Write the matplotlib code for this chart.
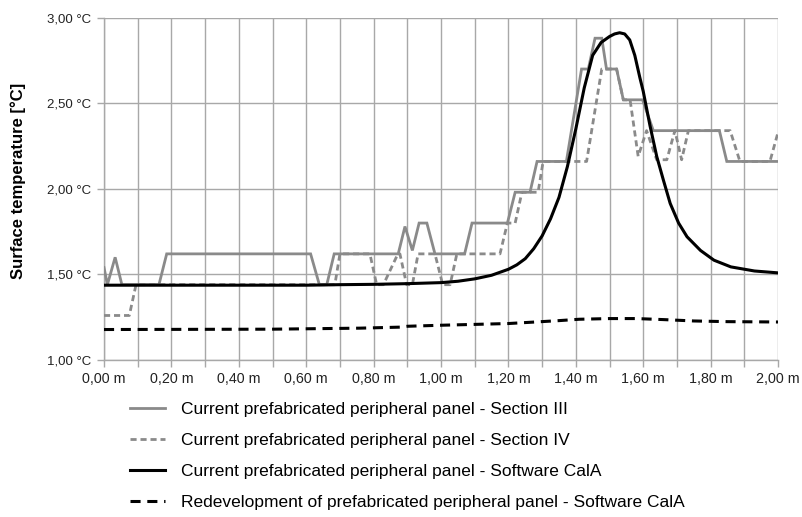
import matplotlib
matplotlib.use("Agg")
import matplotlib.pyplot as plt
from matplotlib.ticker import MultipleLocator, FuncFormatter

plt.rcParams['font.family'] = ['Liberation Sans', 'DejaVu Sans']

# Section III measurements (position in m, surface temperature in °C)
sec3_x = [0.000, 0.010, 0.033, 0.053, 0.163, 0.186, 0.613, 0.639, 0.661, 0.683,
          0.873, 0.893, 0.915, 0.935, 0.958, 0.982, 1.070, 1.092, 1.197, 1.220,
          1.264, 1.285, 1.372, 1.417, 1.437, 1.457, 1.477, 1.491, 1.521, 1.541,
          1.598, 1.630, 1.826, 1.848, 2.000]
sec3_t = [1.54, 1.44, 1.60, 1.44, 1.44, 1.62, 1.62, 1.44, 1.44, 1.62,
          1.62, 1.78, 1.64, 1.80, 1.80, 1.62, 1.62, 1.80, 1.80, 1.98,
          1.98, 2.16, 2.16, 2.70, 2.70, 2.88, 2.88, 2.70, 2.70, 2.52,
          2.52, 2.34, 2.34, 2.16, 2.16]

# Section IV measurements
sec4_x = [0.000, 0.075, 0.095, 0.685, 0.700, 0.789, 0.809, 0.829, 0.872, 0.878,
          0.898, 0.915, 0.932, 0.982, 1.005, 1.027, 1.047, 1.175, 1.197, 1.220,
          1.240, 1.288, 1.303, 1.432, 1.477, 1.521, 1.541, 1.561, 1.585, 1.610,
          1.640, 1.670, 1.694, 1.714, 1.734, 1.858, 1.887, 1.976, 2.000]
sec4_t = [1.26, 1.26, 1.44, 1.44, 1.62, 1.62, 1.44, 1.44, 1.62, 1.62,
          1.44, 1.44, 1.62, 1.62, 1.44, 1.44, 1.62, 1.62, 1.80, 1.80,
          1.98, 1.98, 2.16, 2.16, 2.70, 2.70, 2.52, 2.52, 2.19, 2.34,
          2.17, 2.17, 2.34, 2.17, 2.34, 2.34, 2.16, 2.16, 2.33]

# Current panel, simulated with CalA
cala_x = [0.00, 0.30, 0.60, 0.70, 0.80, 0.90, 1.00, 1.05, 1.10, 1.15,
          1.20, 1.225, 1.25, 1.275, 1.30, 1.325, 1.35, 1.375, 1.40, 1.425,
          1.45, 1.475, 1.50, 1.515, 1.53, 1.545, 1.56, 1.575, 1.59, 1.60,
          1.62, 1.64, 1.66, 1.68, 1.705, 1.73, 1.77, 1.81, 1.86, 1.93, 2.00]
cala_t = [1.437, 1.437, 1.437, 1.440, 1.442, 1.446, 1.452, 1.460, 1.474, 1.495,
          1.530, 1.556, 1.592, 1.650, 1.725, 1.825, 1.950, 2.130, 2.350, 2.590,
          2.780, 2.855, 2.890, 2.905, 2.912, 2.905, 2.870, 2.780, 2.650, 2.570,
          2.370, 2.190, 2.050, 1.915, 1.800, 1.720, 1.640, 1.583, 1.544, 1.520, 1.509]

# Redeveloped panel, simulated with CalA
redev_x = [0.00, 0.50, 0.76, 0.88, 0.90, 1.00, 1.10, 1.20, 1.28, 1.35,
           1.41, 1.50, 1.58, 1.66, 1.75, 1.85, 2.00]
redev_t = [1.178, 1.180, 1.186, 1.192, 1.197, 1.203, 1.208, 1.213, 1.222, 1.230,
           1.238, 1.242, 1.242, 1.236, 1.228, 1.224, 1.222]

labels = [
    "Current prefabricated peripheral panel - Section III",
    "Current prefabricated peripheral panel - Section IV",
    "Current prefabricated peripheral panel - Software CalA",
    "Redevelopment of prefabricated peripheral panel - Software CalA",
]

fig = plt.figure(figsize=(8.02, 5.17), dpi=100)
ax = fig.add_axes([0.1297, 0.3037, 0.8404, 0.6621])

grey = "#8a8a8a"
ax.plot(sec3_x, sec3_t, color=grey, lw=2.0, solid_joinstyle='miter', label=labels[0], zorder=3)
ax.plot(sec4_x, sec4_t, color=grey, lw=2.0, ls=(0, (2.2, 1.4)), label=labels[1], zorder=3)
ax.plot(cala_x, cala_t, color="black", lw=2.2, solid_joinstyle='round', label=labels[2], zorder=4)
ax.plot(redev_x, redev_t, color="black", lw=2.2, ls=(0, (3.3, 2.2)), label=labels[3], zorder=4)

ax.set_xlim(0, 2.0)
ax.set_ylim(1.0, 3.0)
ax.xaxis.set_major_locator(MultipleLocator(0.2))
ax.xaxis.set_minor_locator(MultipleLocator(0.1))
ax.yaxis.set_major_locator(MultipleLocator(0.5))
ax.xaxis.set_major_formatter(FuncFormatter(lambda v, p: f"{v:.2f}".replace(".", ",") + " m"))
ax.yaxis.set_major_formatter(FuncFormatter(lambda v, p: f"{v:.2f}".replace(".", ",") + " °C"))

gridc = "#a8a8a8"
ax.grid(True, which='both', axis='x', color=gridc, lw=1.0)
ax.grid(True, which='major', axis='y', color=gridc, lw=1.0)
ax.set_axisbelow(True)
for s in ("top", "right"):
    ax.spines[s].set_visible(False)
for s in ("left", "bottom"):
    ax.spines[s].set_color(gridc)
    ax.spines[s].set_linewidth(1.0)
ax.tick_params(axis='both', which='both', color=gridc, length=5, width=1.0,
               labelcolor="#222222")
ax.tick_params(axis='x', labelsize=10.3, pad=4)
ax.tick_params(axis='y', labelsize=9.5, pad=4)

ax.set_ylabel("Surface temperature [°C]", fontsize=12, fontweight='bold')
ax.yaxis.set_label_coords(-0.116, 0.522)

handles, _ = ax.get_legend_handles_labels()
fig.legend(handles, labels, loc='upper left', bbox_to_anchor=(0.162, 0.222),
           frameon=False, fontsize=12.5, handlelength=2.0, handletextpad=0.92,
           labelspacing=0.91, borderaxespad=0, borderpad=0)

fig.savefig("out.png", dpi=100)
